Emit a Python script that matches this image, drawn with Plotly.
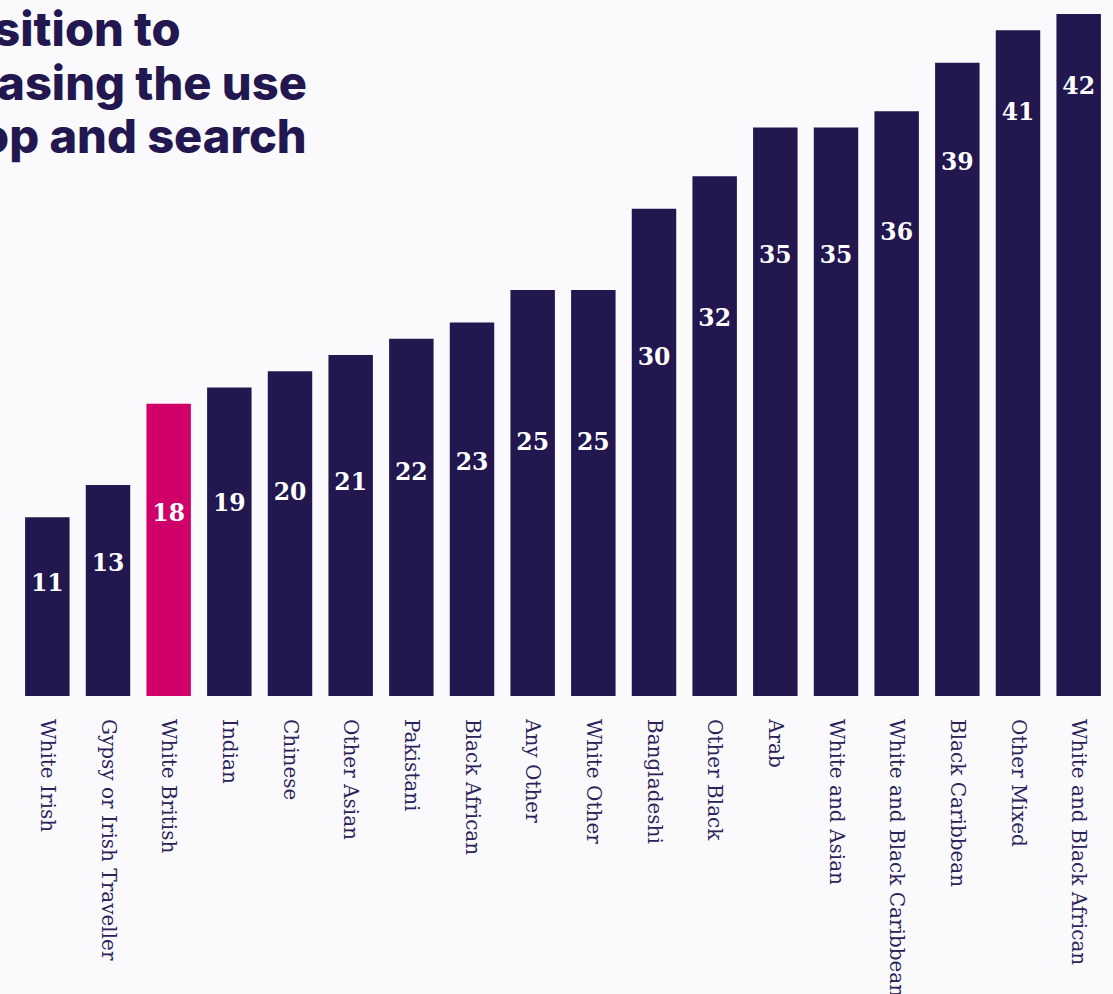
import plotly.graph_objects as go

# Ethnic groups, ordered from lowest to highest share
groups = [
    "White Irish", "Gypsy or Irish Traveller", "White British", "Indian",
    "Chinese", "Other Asian", "Pakistani", "Black African", "Any Other",
    "White Other", "Bangladeshi", "Other Black", "Arab", "White and Asian",
    "White and Black Caribbean", "Black Caribbean", "Other Mixed",
    "White and Black African",
]
values = [11, 13, 18, 19, 20, 21, 22, 23, 25, 25, 30, 32, 35, 35, 36, 39, 41, 42]
highlight = "White British"

title_lines = ["Opposition to", "increasing the use", "of stop and search"]

NAVY = "#22174f"
MAGENTA = "#d0006b"
BG = "#fafafd"

W, H = 1113, 994
ML, MR, MT, MB = 17, 4, 0, 298
PX_PER_UNIT = 16.24

colors = [MAGENTA if g == highlight else NAVY for g in groups]

# value labels sit inside each bar; they ride closer to the top on tall bars
label_y = [max(0.0193 * v * v + 3.4, 0.62 * v) for v in values]

fig = go.Figure()
fig.add_trace(go.Bar(
    x=groups, y=values, marker=dict(color=colors, line=dict(width=0)),
    hoverinfo="x+y", showlegend=False,
))
fig.add_trace(go.Scatter(
    x=groups, y=label_y, mode="text", text=[str(v) for v in values],
    textposition="middle center",
    textfont=dict(family="DejaVu Serif", size=23.5, color="white", weight="bold"),
    hoverinfo="skip", showlegend=False,
))

# headline in the top-left corner, one annotation per line
plot_w = W - ML - MR
plot_h = H - MT - MB
line_right = [183, 309, 309]
line_mid = [28, 82, 135]
for text, xr, ym in zip(title_lines, line_right, line_mid):
    fig.add_annotation(
        text=text, xref="paper", yref="paper",
        x=(xr - ML) / plot_w, y=1 - (ym - MT) / plot_h,
        xanchor="right", yanchor="middle", align="left",
        showarrow=False,
        font=dict(family="Inter", size=47, color=NAVY, weight=800),
    )

fig.update_layout(
    width=W, height=H,
    margin=dict(l=ML, r=MR, t=MT, b=MB, pad=0, autoexpand=False),
    paper_bgcolor=BG, plot_bgcolor=BG,
    bargap=0.267,
    xaxis=dict(
        type="category", range=[-0.5, len(groups) - 0.5],
        tickangle=90, showgrid=False, zeroline=False, showline=False,
        automargin=False,
        ticks="outside", ticklen=18, tickcolor="rgba(0,0,0,0)",
        tickfont=dict(family="DejaVu Serif", size=20, color="#2a2258"),
    ),
    yaxis=dict(
        range=[0, plot_h / PX_PER_UNIT], showgrid=False, zeroline=False,
        showline=False, showticklabels=False, ticks="", automargin=False,
    ),
    font=dict(family="DejaVu Serif", color=NAVY),
)

fig.write_html("out.html")
